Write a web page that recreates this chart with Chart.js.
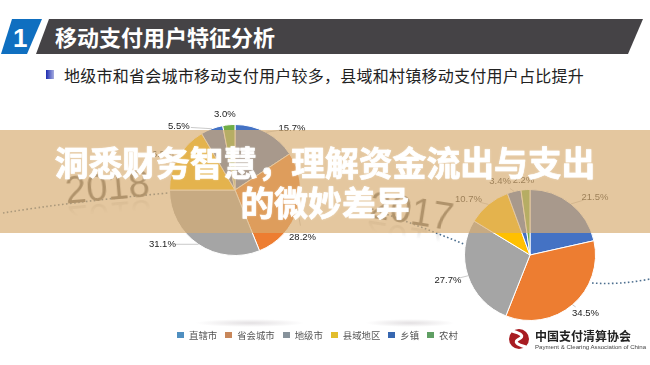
<!DOCTYPE html>
<html lang="zh">
<head>
<meta charset="utf-8">
<title>移动支付用户特征分析</title>
<script src="https://cdn.jsdelivr.net/npm/chart.js@4"></script>
<style>
  html, body { margin: 0; padding: 0; background: #fff; }
  #stage { position: relative; width: 650px; height: 365px; overflow: hidden; font-family: "Noto Sans CJK SC", sans-serif; }
  #stage > * { position: absolute; }
  #heading { left: 55px; top: 19px; font-size: 22px; line-height: 34px; font-weight: 700; color: #fff; }
  #sub { left: 64px; top: 64px; font-size: 16px; letter-spacing: .25px; line-height: 22px; color: #222; white-space: nowrap; }
  #bullet { left: 46px; top: 70px; width: 8px; height: 9px; background: linear-gradient(90deg, #1c2bb0, #a8aee0); }
  .year { font-family: "Liberation Sans", sans-serif; font-size: 38px; line-height: 38px; color: #5f5f5f;
          -webkit-box-reflect: below -9px linear-gradient(transparent 55%, rgba(0,0,0,.28)); }
  #y2018 { left: 65px; top: 168px; transform: rotate(-5deg); }
  #y2017 { left: 369px; top: 192px; transform: rotate(9deg); }
  .glow { height: 8px; background: radial-gradient(ellipse at center, #e3e0e2 0, rgba(255,255,255,0) 70%); }
  #pie1 { left: 135px; top: 105px; }
  #pie2 { left: 430px; top: 170px; }
  #banner { left: 0; top: 130px; width: 650px; height: 103px; background: rgba(215,173,114,.68); }
  #headline { left: 0; top: 130px; width: 650px; text-align: center; color: #fff; font-weight: 700; font-size: 33.8px; line-height: 40px; padding-top: 12px;
              -webkit-text-stroke: .7px #fff; text-shadow: 0 0 2px rgba(255,255,255,.7); }
  #legend { left: 177px; top: 328px; display: flex; gap: 8px; font-size: 9.4px; line-height: 14px; color: #555; }
  #legend span { display: flex; align-items: center; white-space: nowrap; }
  #legend i { display: inline-block; width: 7px; height: 6px; margin-right: 5px; }
  #org { left: 535px; top: 327px; font-size: 12px; line-height: 17px; font-weight: 700; color: #222; white-space: nowrap; }
  #orgEn { left: 535px; top: 343px; font-family: "Liberation Sans", sans-serif; font-size: 6.1px; line-height: 8px; color: #444; white-space: nowrap; }
</style>
</head>
<body>
<div id="stage">
  <svg width="650" height="365" style="left:0;top:0">
    <polygon points="12,19 42,19 27,54 1,54" fill="#0f6fc0"/>
    <polygon points="49,19 643,19 628,54 36,54" fill="#454346"/>
    <text x="13" y="47" font-family="Liberation Sans" font-weight="700" font-size="26" fill="#fff">1</text>
    <g fill="none" stroke="#4d6f8f" stroke-width="1.6" stroke-dasharray="1.6 2.4">
      <path d="M3 213 Q70 202 168 193"/>
      <path d="M372 209 Q420 226 466 245"/>
      <path d="M592 283 Q620 285 650 279"/>
    </g>
    <circle cx="519" cy="339" r="10" fill="#a81c22"/>
    <path d="M512 331 Q527 335 519 339 Q511 343 526 347" fill="none" stroke="#fff" stroke-width="3"/>
  </svg>
  <div id="bullet"></div>
  <div id="heading">移动支付用户特征分析</div>
  <div id="sub">地级市和省会城市移动支付用户较多，县域和村镇移动支付用户占比提升</div>
  <div class="year" id="y2018">2018</div>
  <div class="year" id="y2017">2017</div>
  <div class="glow" style="left:195px;top:319px;width:110px"></div>
  <div class="glow" style="left:365px;top:319px;width:90px"></div>
  <canvas id="pie1" width="200" height="170"></canvas>
  <canvas id="pie2" width="200" height="170"></canvas>
  <div id="legend"></div>
  <div id="org">中国支付清算协会</div>
  <div id="orgEn">Payment &amp; Clearing Association of China</div>
  <div id="banner"></div>
  <div id="headline">洞悉财务智慧，理解资金流出与支出<br>的微妙差异</div>
</div>

<script>
// Data
const categories = ["直辖市", "省会城市", "地级市", "县域地区", "乡镇", "农村"];
const values2018 = [15.7, 28.2, 31.1, 16.5, 5.5, 3.0];
const values2017 = [21.5, 34.5, 27.7, 10.7, 3.4, 2.2];

const sliceColors = ["#4472C4", "#ED7D31", "#A5A5A5", "#FFC000", "#4472C4", "#70AD47"];
const legendColors = ["#4f8fc0", "#c8875a", "#87929b", "#e2bd2c", "#3767b0", "#5f9f63"];

// label offset from the outer edge of each slice, px
const offsets2018 = [[26, -4], [5, 28], [-36, 0], [-18, -3], [-33, -2], [-4, -10]];
const offsets2017 = [[24, -7], [13, 9], [-20, 5], [-20, -5], [-14, -10], [-2, -9]];

// labels and leader lines outside the pie
const outsideLabels = {
  id: "outsideLabels",
  afterDatasetsDraw(chart, args, opts) {
    const ctx = chart.ctx;
    const values = chart.data.datasets[0].data;
    ctx.save();
    ctx.font = '9.5px "Liberation Sans", sans-serif';
    ctx.textAlign = "center";
    ctx.textBaseline = "middle";
    chart.getDatasetMeta(0).data.forEach(function (arc, i) {
      const p = arc.getProps(["x", "y", "startAngle", "endAngle", "outerRadius"], true);
      const mid = (p.startAngle + p.endAngle) / 2;
      const ex = p.x + Math.cos(mid) * p.outerRadius;
      const ey = p.y + Math.sin(mid) * p.outerRadius;
      const lx = ex + opts.offsets[i][0];
      const ly = ey + opts.offsets[i][1];
      const len = Math.hypot(opts.offsets[i][0], opts.offsets[i][1]);
      if (len > 14) {
        const k = (len - 12) / len;
        ctx.strokeStyle = "#a6a6a6";
        ctx.lineWidth = 0.6;
        ctx.beginPath();
        ctx.moveTo(ex, ey);
        ctx.lineTo(ex + opts.offsets[i][0] * k, ey + opts.offsets[i][1] * k);
        ctx.stroke();
      }
      ctx.fillStyle = "#222";
      ctx.fillText(values[i].toFixed(1) + "%", lx, ly);
    });
    ctx.restore();
  }
};

function makePie(id, values, offsets) {
  return new Chart(document.getElementById(id), {
    type: "pie",
    data: {
      labels: categories,
      datasets: [{
        data: values,
        backgroundColor: sliceColors,
        borderColor: "#fff",
        borderWidth: 1
      }]
    },
    options: {
      responsive: false,
      animation: false,
      layout: { padding: 19 },
      plugins: {
        legend: { display: false },
        tooltip: { enabled: false },
        outsideLabels: { offsets: offsets }
      }
    },
    plugins: [outsideLabels]
  });
}

makePie("pie1", values2018, offsets2018);
makePie("pie2", values2017, offsets2017);

// legend row shared by both pies
const legend = document.getElementById("legend");
categories.forEach(function (name, i) {
  const item = document.createElement("span");
  const box = document.createElement("i");
  box.style.background = legendColors[i];
  item.appendChild(box);
  item.appendChild(document.createTextNode(name));
  legend.appendChild(item);
});
</script>
</body>
</html>
